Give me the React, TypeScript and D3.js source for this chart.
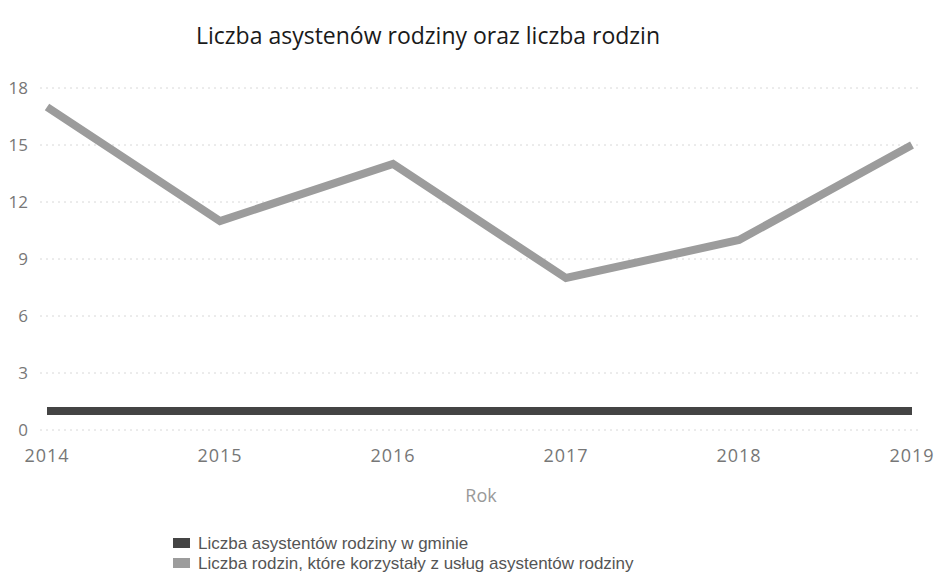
import { useEffect, useRef } from 'react';
import * as d3 from 'd3';

const years = ['2014', '2015', '2016', '2017', '2018', '2019'];
const asystenci = [1, 1, 1, 1, 1, 1];
const rodziny = [17, 11, 14, 8, 10, 15];
const yTicks = [0, 3, 6, 9, 12, 15, 18];
const seriesNames = [
  'Liczba asystentów rodziny w gminie',
  'Liczba rodzin, które korzystały z usług asystentów rodziny',
];
const seriesColors = ['#444444', '#9c9c9c'];

export default function App() {
  const ref = useRef<SVGSVGElement | null>(null);

  useEffect(() => {
    const width = 946;
    const height = 575;
    const svg = d3.select(ref.current);
    svg.selectAll('*').remove();
    svg.attr('width', width).attr('height', height);

    const font = "'Open Sans', 'Noto Sans', sans-serif";

    const x = d3.scalePoint<string>().domain(years).range([47, 912]);
    const y = d3.scaleLinear().domain([0, 18]).range([430, 88]);

    // tytuł
    svg.append('text')
      .attr('x', 428)
      .attr('y', 44)
      .attr('text-anchor', 'middle')
      .attr('font-family', font)
      .attr('font-size', 23)
      .attr('fill', '#1a1a1a')
      .text('Liczba asystenów rodziny oraz liczba rodzin');

    // siatka i etykiety osi Y
    const grid = svg.append('g');
    yTicks.forEach(t => {
      grid.append('line')
        .attr('x1', 40)
        .attr('x2', 920)
        .attr('y1', y(t))
        .attr('y2', y(t))
        .attr('stroke', '#d8d8d8')
        .attr('stroke-width', 1)
        .attr('stroke-dasharray', '2,4');
      grid.append('text')
        .attr('x', 28)
        .attr('y', y(t))
        .attr('dy', '0.35em')
        .attr('text-anchor', 'end')
        .attr('font-family', font)
        .attr('font-size', 17)
        .attr('fill', '#777')
        .text(t);
    });

    // etykiety osi X
    svg.append('g')
      .selectAll('text')
      .data(years)
      .enter().append('text')
      .attr('x', d => x(d)!)
      .attr('y', 462)
      .attr('text-anchor', 'middle')
      .attr('font-family', font)
      .attr('font-size', 18)
      .attr('letter-spacing', 1)
      .attr('fill', '#777')
      .text(d => d);

    svg.append('text')
      .attr('x', 481)
      .attr('y', 502)
      .attr('text-anchor', 'middle')
      .attr('font-family', font)
      .attr('font-size', 18)
      .attr('fill', '#999')
      .text('Rok');

    const line = d3.line<number>()
      .x((_, i) => x(years[i])!)
      .y(d => y(d));

    [asystenci, rodziny].forEach((vals, i) => {
      svg.append('path')
        .datum(vals)
        .attr('fill', 'none')
        .attr('stroke', seriesColors[i])
        .attr('stroke-width', 8)
        .attr('stroke-linejoin', 'miter')
        .attr('d', line);
    });

    // legenda
    const legend = svg.append('g')
      .selectAll('g')
      .data(seriesNames)
      .enter().append('g')
      .attr('transform', (_, i) => `translate(173,${543 + i * 20})`);

    legend.append('rect')
      .attr('x', 0)
      .attr('y', -5)
      .attr('width', 17)
      .attr('height', 10)
      .attr('fill', (_, i) => seriesColors[i]);

    legend.append('text')
      .attr('x', 25)
      .attr('y', 0)
      .attr('dy', '0.35em')
      .attr('font-family', "'Liberation Sans', Arial, sans-serif")
      .attr('font-size', 17)
      .attr('fill', '#555')
      .text(d => d);
  }, []);

  return (
    <div style={{ position: 'absolute', left: 0, top: 0, background: '#fff' }}>
      <svg ref={ref}></svg>
    </div>
  );
}
